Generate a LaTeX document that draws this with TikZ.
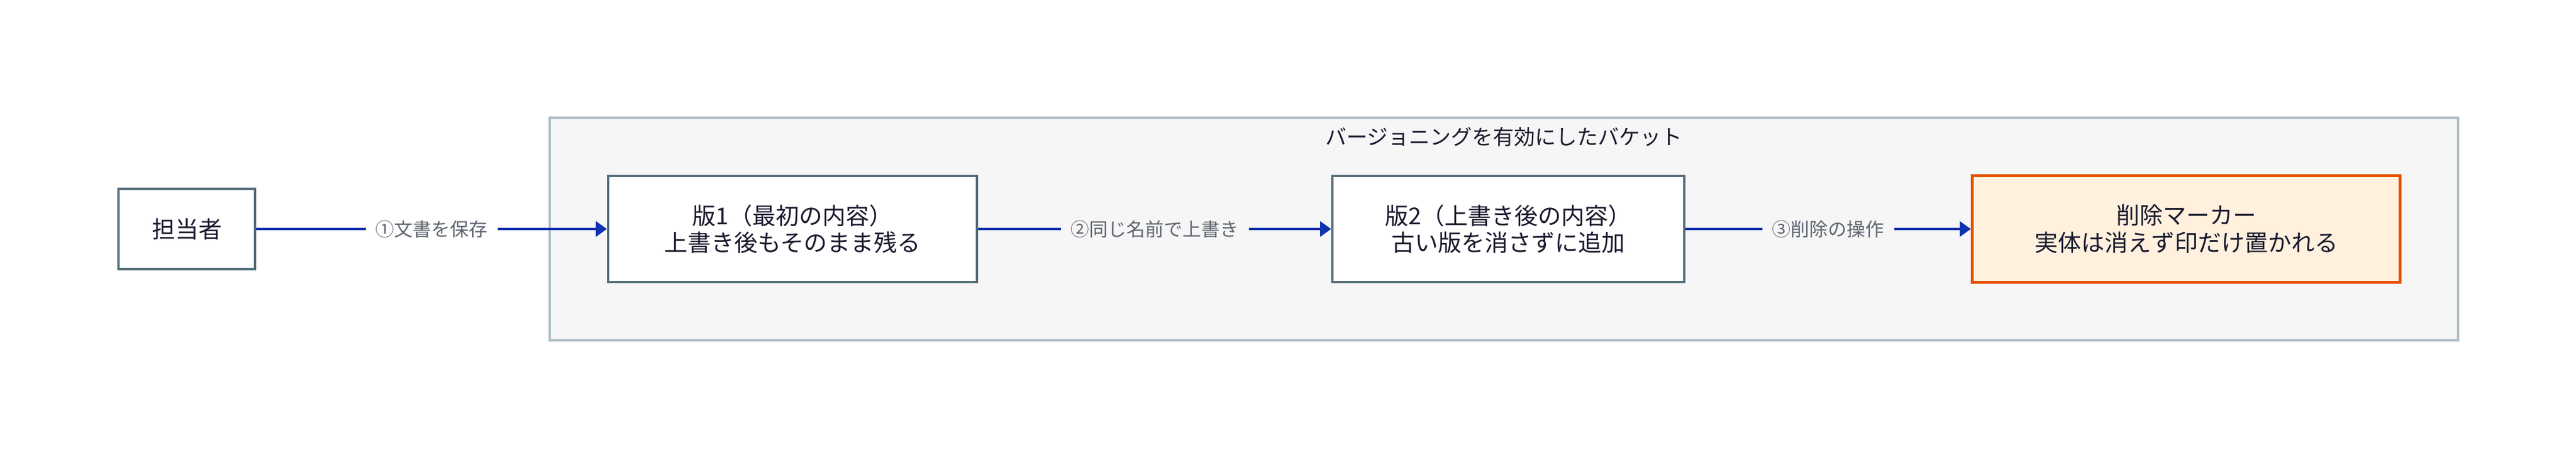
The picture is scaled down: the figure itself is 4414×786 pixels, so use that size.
\documentclass[tikz,border=0pt]{standalone}
\usepackage{fontspec}
\setmainfont{Noto Sans CJK JP}
\usetikzlibrary{arrows.meta}
\definecolor{bucketbg}{HTML}{F6F6F6}
\definecolor{bucketline}{HTML}{B0BEC5}
\definecolor{boxline}{HTML}{546E7A}
\definecolor{arrowblue}{HTML}{0D33B0}
\definecolor{textdark}{HTML}{1A1A2E}
\definecolor{labelgray}{HTML}{5F6570}
\definecolor{delline}{HTML}{E65100}
\definecolor{delfill}{HTML}{FFF1DE}
\tikzset{
  stepbox/.style={draw=boxline, line width=2pt, fill=white, rectangle,
    align=center, text=textdark, inner sep=0pt,
    font=\fontsize{20pt}{23.4pt}\selectfont},
  delbox/.style={stepbox, draw=delline, fill=delfill, line width=2.65pt},
  flow/.style={draw=arrowblue, line width=2pt, -{Triangle[length=9.5pt,width=13pt]}},
  elabel/.style={fill=#1, text=labelgray, inner xsep=8.5pt, inner ysep=2pt,
    font=\fontsize{16pt}{19pt}\selectfont},
  titletext/.style={text=textdark, font=\fontsize{18pt}{21pt}\selectfont}
}
\begin{document}
\begin{tikzpicture}[x=0.5pt,y=-0.5pt]
\useasboundingbox[fill=white] (0,0) rectangle (4414,786);
\draw[bucketline, fill=bucketbg, line width=2pt] (942,202) rectangle (4212,584);
\node[titletext] (title) at (2577,235) {バージョニングを有効にしたバケット};
\node[stepbox, minimum width=117pt, minimum height=69pt] (actor) at (320,393) {担当者};
\node[stepbox, minimum width=316pt, minimum height=91pt] (v1) at (1358,393) {版1（最初の内容）\\上書き後もそのまま残る};
\node[stepbox, minimum width=301.5pt, minimum height=91pt] (v2) at (2584.5,393) {版2（上書き後の内容）\\古い版を消さずに追加};
\node[delbox, minimum width=366.3pt, minimum height=91.3pt] (del) at (3746,393) {削除マーカー\\実体は消えず印だけ置かれる};
\draw[flow] (actor.east) -- node[elabel=white] {①文書を保存} (v1.west);
\draw[flow] (v1.east) -- node[elabel=bucketbg] {②同じ名前で上書き} (v2.west);
\draw[flow] (v2.east) -- node[elabel=bucketbg] {③削除の操作} (del.west);
\end{tikzpicture}
\end{document}
